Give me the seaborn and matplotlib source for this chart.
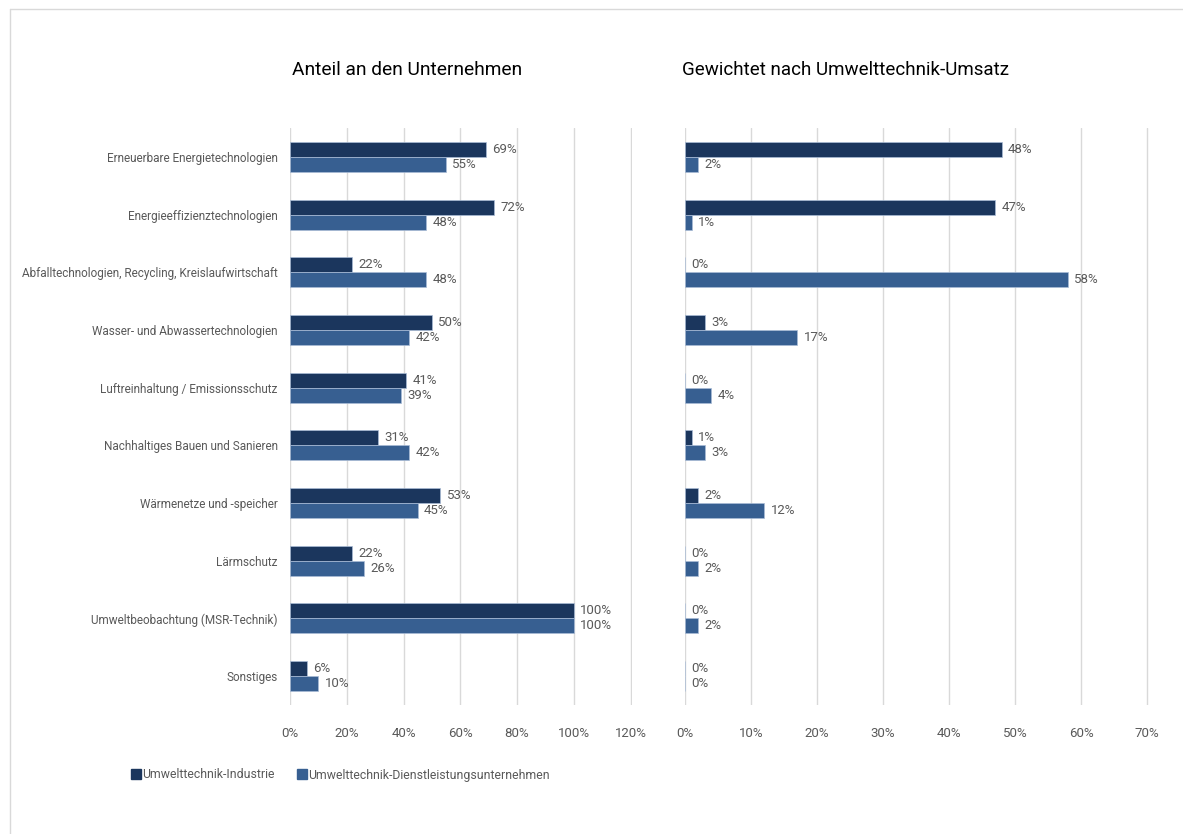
import pandas as pd
import numpy as np
import seaborn as sns
import matplotlib.pyplot as plt
from matplotlib.lines import Line2D

## Data
categories = ['Erneuerbare Energietechnologien', 'Energieeffizienztechnologien',
              'Abfalltechnologien, Recycling, Kreislaufwirtschaft', 'Wasser- und Abwassertechnologien',
              'Luftreinhaltung / Emissionsschutz', 'Nachhaltiges Bauen und Sanieren',
              'Wärmenetze und -speicher', 'Lärmschutz', 'Umweltbeobachtung (MSR-Technik)', 'Sonstiges']
series = ['Umwelttechnik-Industrie', 'Umwelttechnik-Dienstleistungsunternehmen']

anteil_industrie = [69, 72, 22, 50, 41, 31, 53, 22, 100, 6]
anteil_dienst = [55, 48, 48, 42, 39, 42, 45, 26, 100, 10]
umsatz_industrie = [48, 47, 0, 3, 0, 1, 2, 0, 0, 0]
umsatz_dienst = [2, 1, 58, 17, 4, 3, 12, 2, 2, 0]

titles = ['Anteil an den Unternehmen', 'Gewichtet nach Umwelttechnik-Umsatz']
colors = ['#1B365D', '#375F91']
text_col = '#595959'

sns.set_theme(style='white')
plt.rcParams['font.family'] = ['Roboto', 'DejaVu Sans']

def long_df(ind, dien):
    return pd.DataFrame({
        'kategorie': categories * 2,
        'wert': ind + dien,
        'serie': [series[0]] * len(categories) + [series[1]] * len(categories),
    })

fig = plt.figure(figsize=(11.83, 8.34), dpi=100)
W, H = 1183, 834
ax1 = fig.add_axes([290 / W, 1 - 705 / H, 342 / W, 577 / H])
ax2 = fig.add_axes([685 / W, 1 - 705 / H, 464 / W, 577 / H])

panels = [(ax1, long_df(anteil_industrie, anteil_dienst), 120, 20),
          (ax2, long_df(umsatz_industrie, umsatz_dienst), 70, 10)]

for ax, df, xmax, step in panels:
    sns.barplot(data=df, y='kategorie', x='wert', hue='serie', hue_order=series,
                palette=colors, saturation=1, orient='h', width=0.52, ax=ax,
                edgecolor='#A9BCD6', linewidth=0.5, legend=False)
    for cont in ax.containers:
        ax.bar_label(cont, labels=[f'{v:.0f}%' for v in cont.datavalues],
                     padding=4.5, fontsize=9.5, color=text_col)
    ax.set_xlim(0, xmax * 1.004)
    ax.set_ylim(len(categories) - 0.5, -0.5)
    ax.set_xticks(np.arange(0, xmax + 1, step))
    ax.set_xticklabels([f'{t}%' for t in range(0, xmax + 1, step)])
    ax.xaxis.grid(True, color='#D9D9D9', linewidth=1)
    ax.yaxis.grid(False)
    ax.set_axisbelow(True)
    ax.set_xlabel('')
    ax.set_ylabel('')
    for s in ax.spines.values():
        s.set_visible(False)
    ax.tick_params(axis='x', length=0, pad=16, labelsize=9.5, labelcolor=text_col)
    ax.tick_params(axis='y', length=0, pad=9, labelsize=8.5, labelcolor=text_col)

ax2.set_yticklabels([])

fig.text(407 / W, 1 - 70 / H, titles[0], ha='center', va='center', fontsize=13.8, color='black')
fig.text(845 / W, 1 - 70 / H, titles[1], ha='center', va='center', fontsize=13.5, color='black')

handles = [Line2D([], [], marker='s', linestyle='', markersize=7, color=c) for c in colors]
fig.legend(handles, series, loc='center left', bbox_to_anchor=(121 / W, 1 - 775 / H),
           ncol=2, frameon=False, fontsize=8.8, labelcolor=text_col,
           handlelength=0.6, handletextpad=0.2, columnspacing=2.0)

# thin frame (top and left edges)
fig.add_artist(Line2D([10 / W, 1], [1 - 9 / H, 1 - 9 / H], color='#D9D9D9', linewidth=1))
fig.add_artist(Line2D([10 / W, 10 / W], [0, 1 - 9 / H], color='#D9D9D9', linewidth=1))

fig.savefig('out.png', dpi=100, facecolor='white')
